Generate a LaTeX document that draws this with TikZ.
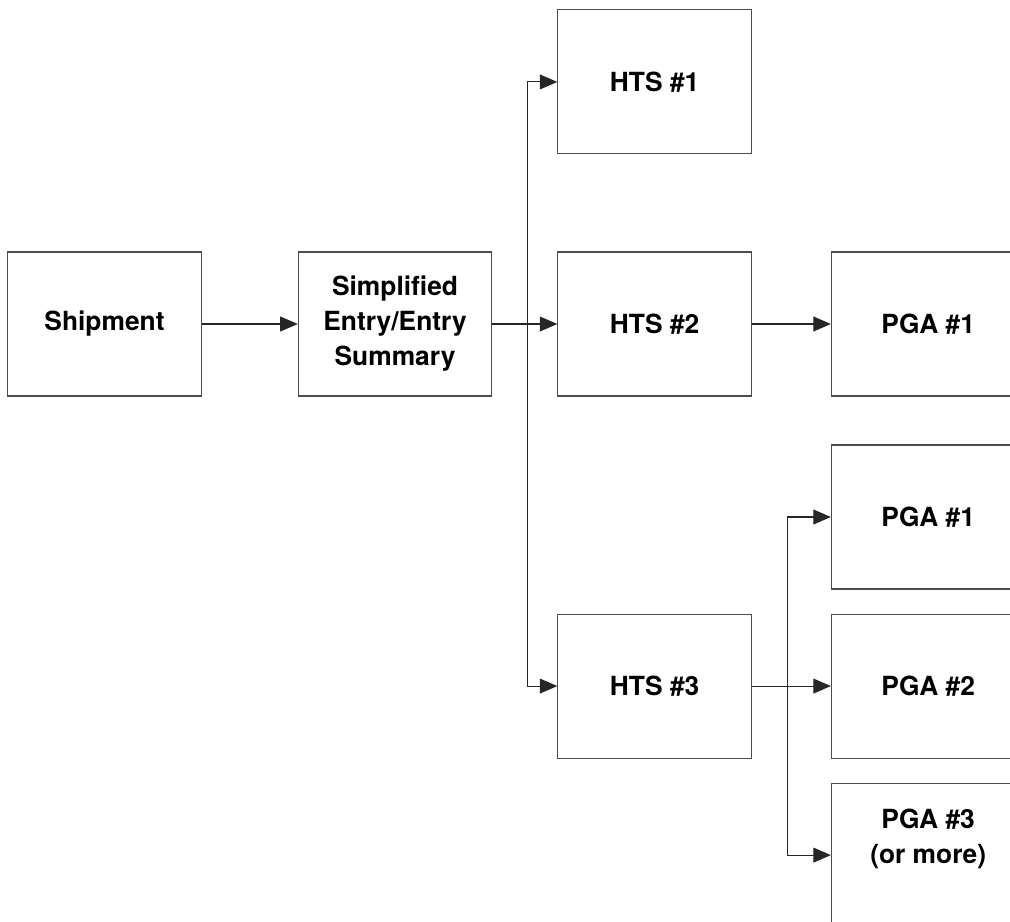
\documentclass[tikz,border=0pt]{standalone}
\usepackage{fontspec}
\setmainfont{TeX Gyre Heros}
\usetikzlibrary{arrows.meta}
\usetikzlibrary{positioning}
\tikzstyle{boxfont}=[font=\fontsize{15}{19.9}\selectfont\bfseries,align=center]
\tikzstyle{flow}=[boxfont,draw=black!70,line width=0.6pt,minimum width=3.87cm,
                minimum height=2.88cm,inner sep=0]
\tikzstyle{hit}=[draw=black!85,line width=0.6pt,-{Triangle[length=10pt,width=8.5pt]}]

\begin{document}
\begin{tikzpicture}
\useasboundingbox (0,0) rectangle (20.2,-18.44);
\clip (0,0) rectangle (20.2,-18.44);

\node[flow] (ship) at (2.09,-6.48) {Shipment};
\node[flow,right=1.92cm of ship] (simp) {Simplified\\Entry/Entry\\Summary};

\node[flow,right=1.3cm of simp] (hts2) {HTS \#2};
\node[flow,above=1.94cm of hts2] (hts1) {HTS \#1};
\node[flow,below=4.34cm of hts2] (hts3) {HTS \#3};

\node[flow,right=1.58cm of hts2] (pga21) {PGA \#1};
\node[flow,right=1.58cm of hts3] (pga32) {PGA \#2};
\node[flow,above=0.48cm of pga32] (pga31) {PGA \#1};
\node[flow,below=0.48cm of pga32] (pga33) {};
\node[boxfont] (pga33t) at ([yshift=0.32cm]pga33.center) {PGA \#3\\(or more)};

\coordinate (split) at ([xshift=0.7cm]simp.east);
\coordinate (split3) at ([xshift=0.72cm]hts3.east);

\path
(ship) edge[hit] (simp)
(simp) edge[hit] (hts2)
(hts2) edge[hit] (pga21)
(hts3) edge[hit] (pga32)
;
\draw[hit] (split) |- (hts1);
\draw[hit] (split) |- (hts3);
\draw[hit] (split3) |- (pga31);
\draw[hit] (split3) |- (pga33);
\end{tikzpicture}
\end{document}
